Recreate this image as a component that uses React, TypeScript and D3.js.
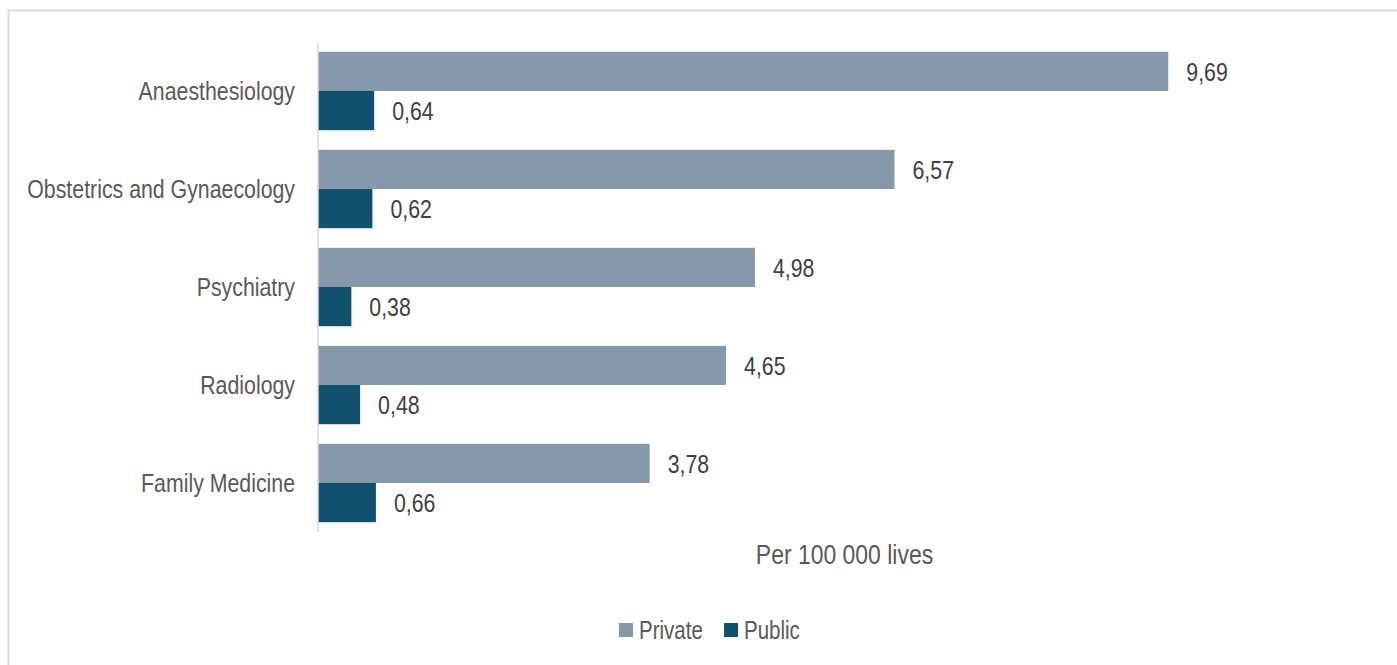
import * as d3 from "d3";

const categories = [
  "Anaesthesiology",
  "Obstetrics and Gynaecology",
  "Psychiatry",
  "Radiology",
  "Family Medicine",
];
const privateValues = [9.69, 6.57, 4.98, 4.65, 3.78];
const publicValues = [0.64, 0.62, 0.38, 0.48, 0.66];
const seriesNames = ["Private", "Public"];
const seriesColors = ["#8699ab", "#11516d"];
const axisTitle = "Per 100 000 lives";

const W = 1397;
const H = 665;
const FONT = "'Liberation Sans', Arial, sans-serif";
const NARROW = 0.82; // squeeze to mimic a narrow font

const fmt = (v: number) => v.toFixed(2).replace(".", ",");

// text drawn with a horizontal squeeze around its anchor point
const NText = ({
  x,
  y,
  size,
  fill,
  anchor = "start",
  children,
}: {
  x: number;
  y: number;
  size: number;
  fill: string;
  anchor?: string;
  children: string;
}) => (
  <text
    transform={`translate(${x},${y}) scale(${NARROW},1)`}
    dy="0.35em"
    fontSize={size}
    fill={fill}
    textAnchor={anchor}
  >
    {children}
  </text>
);

export default function App() {
  const margin = { top: 42, left: 318, right: 26, bottom: 133 };
  const x = d3.scaleLinear().domain([0, 12]).range([margin.left, W - margin.right]);
  const y = d3
    .scaleBand<string>()
    .domain(categories)
    .range([margin.top, H - margin.bottom])
    .paddingInner(0.2)
    .paddingOuter(0.1);
  const inner = d3.scaleBand<string>().domain(seriesNames).range([0, y.bandwidth()]);

  const rows = categories.map((c, i) => ({
    c,
    vals: [privateValues[i], publicValues[i]],
  }));

  return (
    <div style={{ position: "fixed", left: 0, top: 0, width: W, height: H, background: "#fff" }}>
      <svg width={W} height={H} style={{ display: "block", fontFamily: FONT }}>
        <rect x={8.5} y={10.5} width={W + 10} height={H + 10} fill="#fff" stroke="#d9d9d9" strokeWidth={2} />

        {rows.map((r) => (
          <g key={r.c}>
            {r.vals.map((v, j) => {
              const y0 = (y(r.c) ?? 0) + (inner(seriesNames[j]) ?? 0);
              const h = inner.bandwidth();
              return (
                <g key={j}>
                  <rect x={x(0)} y={y0} width={x(v) - x(0)} height={h} fill={seriesColors[j]} />
                  <NText x={x(v) + 18} y={y0 + h / 2} size={26} fill="#404040">
                    {fmt(v)}
                  </NText>
                </g>
              );
            })}
            <NText
              x={x(0) - 23}
              y={(y(r.c) ?? 0) + y.bandwidth() / 2}
              size={26}
              fill="#595959"
              anchor="end"
            >
              {r.c}
            </NText>
          </g>
        ))}

        <line x1={x(0)} x2={x(0)} y1={margin.top} y2={H - margin.bottom} stroke="#d9d9d9" strokeWidth={1.5} />

        <NText x={(x.range()[0] + x.range()[1]) / 2} y={554} size={28} fill="#595959" anchor="middle">
          {axisTitle}
        </NText>

        <g transform="translate(619,630)">
          {seriesNames.map((s, i) => (
            <g key={s} transform={`translate(${i * 105},0)`}>
              <rect x={0} y={-7} width={14} height={14} fill={seriesColors[i]} />
              <NText x={20} y={0} size={25} fill="#595959">
                {s}
              </NText>
            </g>
          ))}
        </g>
      </svg>
    </div>
  );
}
